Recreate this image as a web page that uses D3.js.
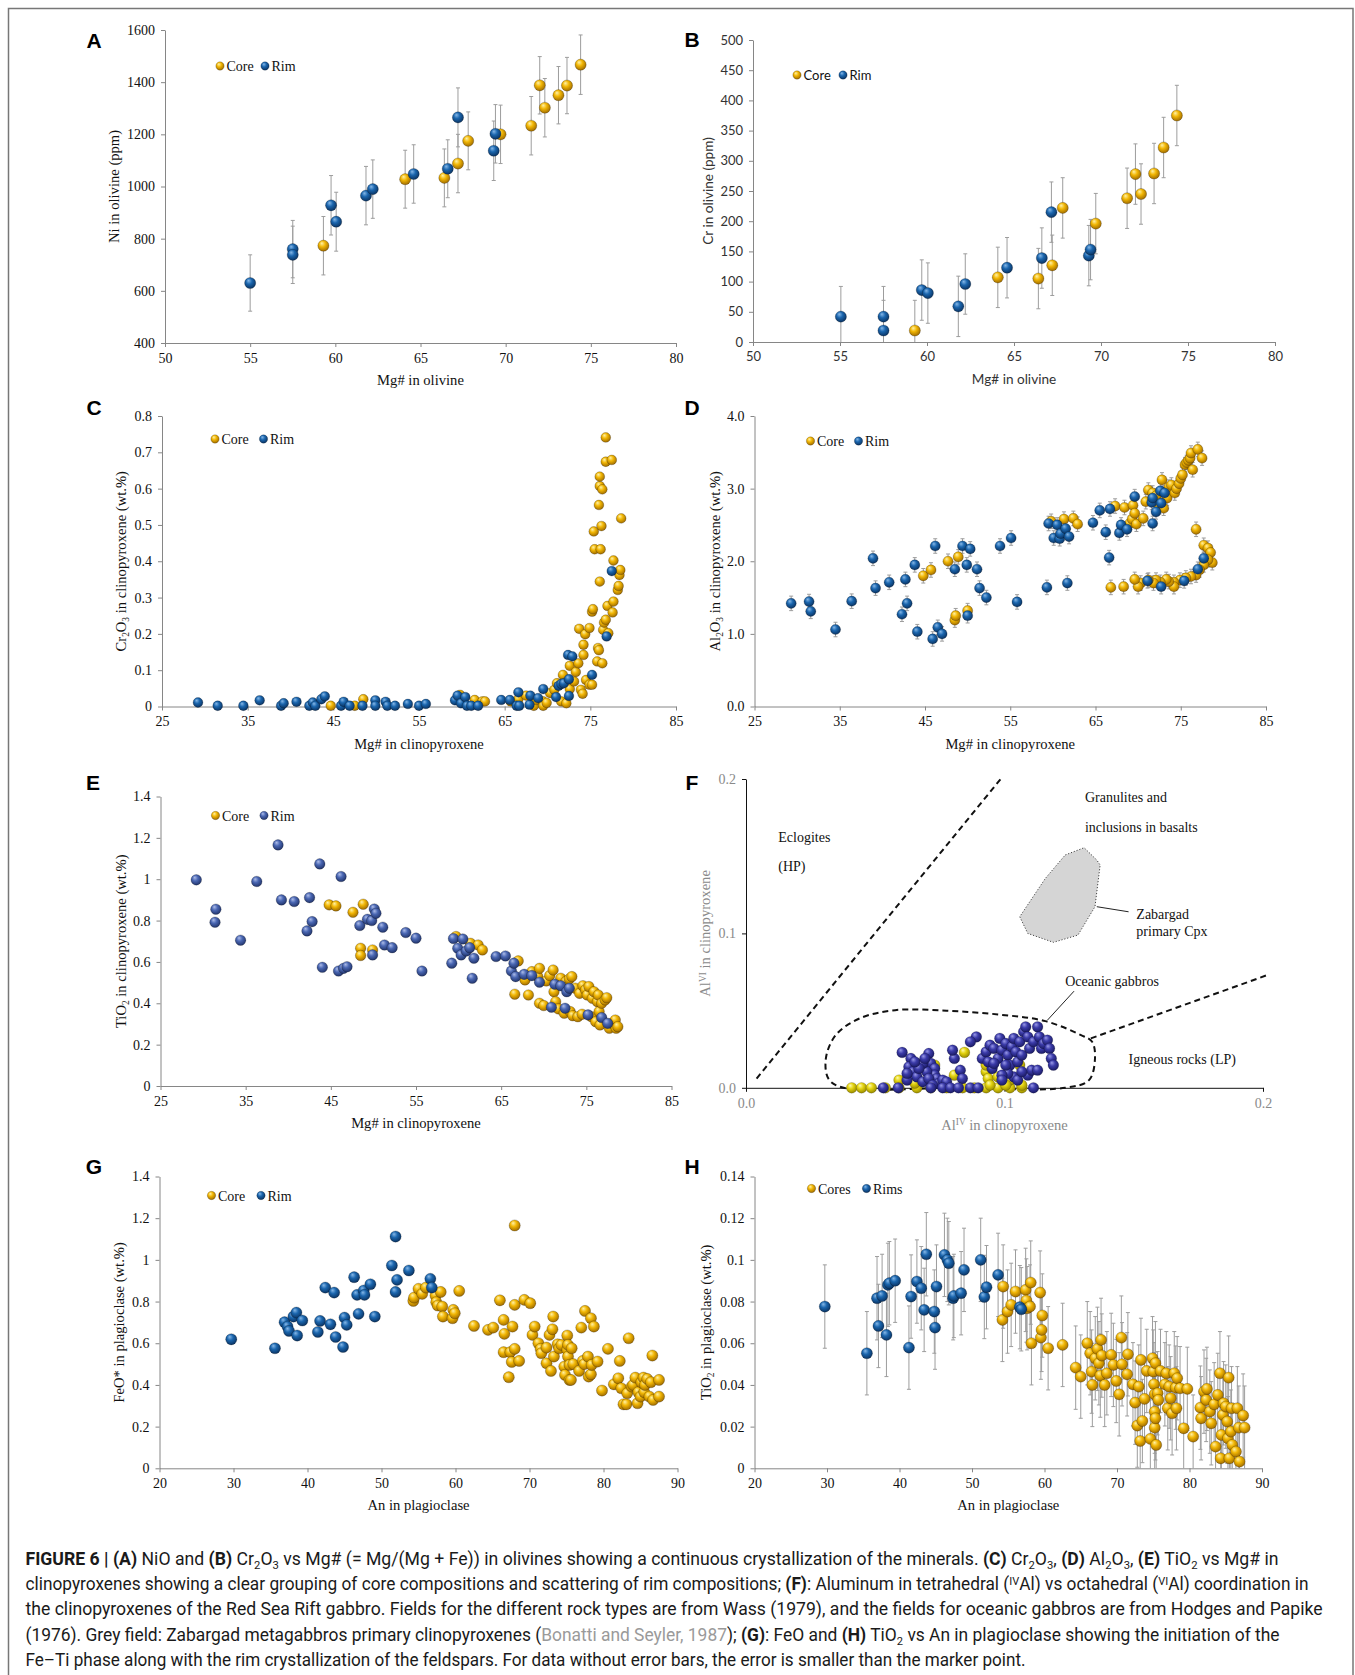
<!DOCTYPE html>
<html>
<head>
<meta charset="utf-8">
<script src="https://cdn.jsdelivr.net/npm/d3@7"></script>
<style>
  body { margin: 0; background: #fff; }
</style>
</head>
<body>
<svg id="fig" width="1355" height="1675"></svg>
<script>
// ---------- data ----------
// A: Ni (ppm) vs Mg# in olivine, [x, y, err]
var aRim = [[55.0,630,108],[57.5,760,110],[57.5,738,110],[59.75,928,114],[60.05,865,113],[61.8,965,112],[62.2,990,112],[64.6,1048,112],[66.6,1068,111],[67.2,1265,113],[69.3,1137,114],[69.4,1202,112]];
var aCore = [[59.3,773,112],[64.1,1028,111],[66.4,1033,111],[67.2,1088,112],[67.8,1175,111],[69.7,1200,112],[71.5,1233,112],[72.0,1388,110],[72.3,1302,112],[73.1,1350,110],[73.6,1387,108],[74.4,1467,114]];

// B: Cr (ppm) vs Mg# in olivine
var bRim = [[55.05,42],[57.5,42],[57.5,19],[59.7,86],[60.05,81],[61.8,59],[62.2,96],[64.6,123],[66.6,139],[67.15,215],[69.3,143],[69.4,153]];
var bCore = [[59.3,19],[64.07,107],[66.4,105],[67.2,127],[67.8,222],[69.7,196],[71.5,238],[71.98,278],[72.3,245],[73.05,279],[73.6,322],[74.36,375]];
var bErr = 50;

// C: Cr2O3 vs Mg# in clinopyroxene
var cRim = [[29.2,0.011],[31.5,0.002],[34.5,0.002],[36.4,0.017],[38.9,0.002],[39.2,0.009],[40.7,0.013],[42.2,0.002],[42.6,0.011],[42.9,0.002],[43.6,0.02],[44.0,0.028],[45.9,0.002],[46.2,0.013],[46.9,0.002],[48.4,0.002],[49.9,0.017],[49.9,0.002],[51.1,0.013],[51.3,0.002],[52.2,0.002],[53.7,0.007],[55.0,0.002],[55.8,0.007],[59.2,0.017],[59.5,0.03],[59.9,0.009],[60.4,0.026],[60.6,0.002],[61.1,0.002],[61.9,0.002],[64.6,0.018],[65.6,0.018],[66.4,0.002],[66.6,0.039],[66.7,0.002],[67.9,0.005],[68.0,0.03],[68.9,0.023],[69.5,0.048],[71.0,0.026],[71.3,0.057],[71.6,0.062],[71.9,0.064],[72.5,0.075],[72.5,0.029],[72.4,0.142],[72.9,0.138],[75.2,0.087],[76.9,0.193],[77.5,0.373]];
var cCore = [[44.7,0.002],[47.5,0.002],[48.5,0.02],[59.8,0.032],[61.5,0.018],[62.4,0.014],[62.7,0.014],[65.7,0.014],[66.6,0.02],[67.5,0.03],[68.4,0.002],[68.7,0.018],[69.5,0.014],[69.5,0.002],[69.9,0.01],[70.3,0.037],[70.8,0.046],[71.1,0.064],[71.6,0.014],[71.8,0.087],[72.2,0.009],[72.6,0.112],[72.6,0.048],[73.1,0.069],[73.3,0.095],[73.6,0.119],[73.9,0.046],[73.7,0.214],[74.1,0.035],[74.2,0.142],[74.4,0.199],[74.2,0.17],[74.5,0.073],[74.9,0.06],[75.2,0.06],[74.9,0.216],[75.2,0.261],[75.3,0.268],[75.4,0.482],[75.5,0.433],[75.8,0.124],[75.9,0.161],[76.0,0.155],[76.0,0.555],[76.1,0.344],[76.1,0.607],[76.1,0.633],[76.2,0.433],[76.3,0.497],[76.4,0.598],[76.4,0.119],[76.5,0.211],[76.6,0.231],[76.8,0.239],[76.8,0.674],[76.8,0.741],[77.0,0.277],[77.1,0.202],[77.5,0.679],[77.6,0.259],[77.7,0.289],[77.7,0.402],[78.2,0.321],[78.3,0.332],[78.4,0.362],[78.5,0.376],[78.6,0.518]];
var cErr = 0.008;

// D: Al2O3 vs Mg# in clinopyroxene
var dRim = [[29.3,1.42],[31.4,1.445],[31.6,1.31],[34.5,1.06],[36.4,1.45],[38.9,2.04],[39.2,1.63],[40.8,1.71],[42.3,1.27],[42.7,1.75],[42.9,1.42],[43.8,1.95],[44.1,1.03],[45.9,0.93],[46.2,2.21],[46.5,1.09],[47.0,1.0],[48.5,1.89],[49.4,2.21],[49.9,1.95],[50.0,1.25],[50.3,2.17],[51.1,1.89],[51.4,1.63],[52.2,1.5],[53.8,2.21],[55.1,2.32],[55.8,1.44],[59.3,1.64],[59.5,2.52],[60.1,2.32],[60.5,2.5],[60.8,2.31],[60.9,2.38],[61.5,2.45],[61.7,1.7],[61.9,2.34],[64.7,2.53],[65.5,2.7],[66.2,2.4],[66.6,2.05],[66.7,2.72],[67.8,2.39],[68.0,2.5],[68.7,2.44],[69.6,2.89],[71.1,1.73],[71.6,2.81],[71.7,2.87],[71.7,2.52],[72.1,2.68],[72.6,2.97],[72.7,2.8],[72.7,1.65],[73.1,2.94],[75.4,1.73],[77.0,1.89],[77.7,2.04]];
var dCore = [[44.8,1.8],[45.7,1.88],[47.7,2.0],[48.9,2.06],[48.5,1.19],[48.6,1.25],[50.0,1.32],[59.8,2.55],[61.3,2.58],[62.4,2.59],[62.9,2.51],[67.3,2.76],[68.4,2.74],[69.0,2.52],[69.3,2.58],[69.4,2.77],[69.6,2.66],[69.8,2.51],[70.6,2.59],[70.9,2.82],[71.2,2.98],[71.7,2.94],[72.1,2.9],[72.5,2.75],[72.8,3.12],[73.0,2.73],[73.4,2.87],[73.6,3.02],[73.9,3.05],[74.3,2.94],[74.5,3.0],[74.8,3.07],[75.0,3.14],[75.2,3.19],[75.5,3.33],[75.7,3.36],[75.9,3.39],[76.1,3.42],[76.2,3.49],[76.4,3.26],[76.8,2.44],[77.0,3.54],[77.5,3.42],[77.7,2.22],[78.2,2.18],[78.5,2.12],[78.7,1.98],[78.2,2.02],[77.7,1.95],[77.2,1.88],[76.8,1.81],[76.2,1.79],[75.6,1.77],[74.9,1.74],[74.2,1.71],[74.2,1.65],[73.6,1.72],[73.3,1.75],[72.6,1.71],[72.1,1.74],[71.8,1.7],[71.2,1.74],[70.3,1.7],[70.0,1.65],[69.6,1.75],[68.3,1.65],[66.8,1.64]];
var dErr = 0.1;

// E: TiO2 vs Mg# in clinopyroxene
var eRim = [[29.2,0.997],[31.5,0.855],[31.4,0.792],[34.4,0.705],[36.3,0.989],[38.8,1.166],[39.2,0.9],[40.7,0.892],[42.2,0.75],[42.5,0.911],[42.8,0.795],[43.7,1.074],[44.0,0.574],[45.9,0.556],[46.2,1.013],[46.5,0.569],[46.9,0.577],[48.4,0.776],[49.3,0.806],[49.8,0.8],[50.1,0.856],[50.3,0.835],[49.9,0.634],[51.1,0.768],[51.3,0.682],[52.2,0.669],[53.8,0.742],[55.0,0.715],[55.7,0.556],[59.2,0.594],[59.4,0.713],[59.9,0.666],[60.3,0.634],[60.5,0.711],[60.9,0.653],[61.3,0.669],[61.6,0.521],[61.8,0.618],[64.4,0.626],[65.5,0.629],[66.2,0.556],[66.5,0.594],[66.7,0.529],[67.7,0.54],[68.6,0.534],[69.5,0.502],[70.9,0.381],[71.3,0.492],[72.0,0.485],[72.5,0.376],[72.7,0.456],[73.0,0.473],[75.2,0.344],[76.8,0.331],[77.5,0.303]];
var eCore = [[44.8,0.876],[45.6,0.871],[47.6,0.84],[48.8,0.879],[48.5,0.666],[48.5,0.631],[49.9,0.658],[59.7,0.723],[61.4,0.69],[62.3,0.682],[62.8,0.658],[67.0,0.605],[67.8,0.513],[66.6,0.444],[68.2,0.44],[68.6,0.553],[69.3,0.529],[69.5,0.569],[69.5,0.4],[70.0,0.389],[70.3,0.508],[70.7,0.534],[71.1,0.561],[71.2,0.456],[71.4,0.408],[71.7,0.373],[72.0,0.521],[72.4,0.352],[72.6,0.505],[73.0,0.518],[73.1,0.36],[73.3,0.529],[73.4,0.34],[73.7,0.473],[74.0,0.335],[74.2,0.448],[74.5,0.347],[74.6,0.485],[74.9,0.465],[75.1,0.44],[75.3,0.481],[75.6,0.335],[75.7,0.424],[75.9,0.456],[76.1,0.311],[76.3,0.408],[76.4,0.44],[76.5,0.36],[76.6,0.295],[76.8,0.4],[77.2,0.416],[77.4,0.427],[77.7,0.279],[78.0,0.303],[78.4,0.319],[78.5,0.279],[78.7,0.287]];

// F: AlVI vs AlIV in clinopyroxene
var fRim = [[0.0604,0.0229],[0.0638,0.019],[0.063,0.0136],[0.0646,0.0104],[0.0661,0.0071],[0.0684,0.0039],[0.0707,0.0222],[0.0715,0.0158],[0.073,0.0125],[0.073,0.0082],[0.0738,0.006],[0.0745,0.0028],[0.0761,0.005],[0.0699,0.0104],[0.0684,0.0158],[0.0669,0.0125],[0.0707,0.006],[0.0722,0.0017],[0.0623,0.005],[0.0806,0.019],[0.0799,0.0244],[0.0829,0.0114],[0.0837,0.006],[0.0891,0.033],[0.0776,0.0039],[0.0653,0.0168],[0.0692,0.019],[0.0623,0.0093],
  [0.0914,0.019],[0.0929,0.0233],[0.0944,0.0276],[0.0959,0.0255],[0.0975,0.019],[0.0982,0.032],[0.099,0.0244],[0.1005,0.0287],[0.1013,0.0212],[0.1021,0.0147],[0.1028,0.0266],[0.1036,0.032],[0.1044,0.0233],[0.1051,0.0168],[0.1059,0.0298],[0.1067,0.0212],[0.1074,0.0363],[0.1082,0.0395],[0.109,0.033],[0.1097,0.0255],[0.1112,0.0298],[0.1128,0.0395],[0.1135,0.033],[0.1143,0.0255],[0.1151,0.0287],[0.1166,0.0309],[0.1174,0.0255],[0.1181,0.019],[0.1189,0.0147],[0.109,0.0082],[0.1105,0.0114],[0.1128,0.0114],[0.1036,0.0071],[0.1013,0.0093],[0.099,0.0082],[0.0952,0.0125],[0.0937,0.0168],[0.0959,0.0158],[0.1005,0.0147],[0.1051,0.005],[0.1067,0.0104],[0.099,0.005],[0.0868,0.0298],
  [0.0531,0],[0.0589,0],[0.0715,0],[0.0761,0],[0.0791,0],[0.0822,0],[0.0868,0],[0.0898,0],[0.1112,0]];
var fCore = [[0.0409,0],[0.0447,0],[0.0485,0],[0.0539,0],[0.0592,0],[0.0661,0],[0.0715,0],[0.0776,0],[0.0838,0],[0.0883,0],[0.0929,0],[0.0975,0],[0.1021,0],[0.1067,0],
  [0.0592,0.005],[0.0845,0.0229],[0.0929,0.0104],[0.0937,0.006],[0.0975,0.0071],[0.102,0.005],[0.1059,0.0147],[0.1067,0.0017],[0.0806,0.0082],[0.0929,0.0147],[0.073,0.0147],[0.0944,0.0017],[0.1005,0.0017],[0.0653,0.003]];
// F: field outlines (Wass 1979; Hodges & Papike 1976; Bonatti & Seyler 1987)
var fDividers = [[[0.0041,0.006],[0.0987,0.2004]], [[0.1334,0.032],[0.2023,0.0734]]];
var fOceanic = [[0.0378,0],[0.032,0.0056],[0.0309,0.019],[0.0347,0.0341],[0.0439,0.0449],[0.0577,0.0503],[0.0776,0.0499],[0.0975,0.0475],[0.1158,0.0432],[0.1296,0.0341],[0.1339,0.0298],[0.135,0.019],[0.1327,0.005],[0.1235,0],[0.08,0]];
var fZabargad = [[0.1059,0.1108],[0.109,0.1],[0.1189,0.0942],[0.1284,0.0989],[0.135,0.1173],[0.137,0.1443],[0.1357,0.1475],[0.1308,0.1555],[0.1235,0.1508],[0.1158,0.1356]];
var fLabels = [["Eclogites",0.0125,0.1594],["(HP)",0.0125,0.1404],["Granulites and",0.1311,0.1849],["inclusions in basalts",0.1311,0.1659],["Zabargad",0.151,0.1093],["primary Cpx",0.151,0.0985],["Oceanic gabbros",0.1235,0.0661],["Igneous rocks (LP)",0.148,0.0151]];
var fLeaders = [[[0.1357,0.1173],[0.148,0.114]], [[0.1269,0.0626],[0.1166,0.0438]]];

// G: FeO* vs An in plagioclase
var gRim = [[29.7,0.619],[35.6,0.576],[36.9,0.701],[37.3,0.68],[37.5,0.659],[38.1,0.728],[38.5,0.747],[38.6,0.637],[39.3,0.709],[41.4,0.654],[41.7,0.707],[42.4,0.867],[43.1,0.691],[43.6,0.843],[43.8,0.63],[44.8,0.582],[45.0,0.723],[45.3,0.688],[46.3,0.917],[46.7,0.832],[46.9,0.741],[47.6,0.853],[47.7,0.832],[48.5,0.883],[49.1,0.728],[51.4,0.973],[51.9,1.112],[51.9,0.846],[52.1,0.904],[53.7,0.949],[56.6,0.909],[56.8,0.867]];
var gCore = [[54.3,0.803],[54.4,0.819],[55.0,0.861],[55.5,0.837],[56.0,0.867],[57.3,0.829],[57.4,0.797],[57.6,0.781],[58.0,0.846],[58.2,0.776],[58.3,0.728],[59.6,0.72],[59.7,0.76],[59.9,0.744],[60.5,0.851],[62.5,0.683],[64.4,0.664],[65.1,0.675],[66.0,0.806],[66.5,0.712],[66.6,0.645],[66.5,0.557],[67.2,0.437],[67.4,0.557],[67.6,0.51],[67.7,0.68],[68.0,0.573],[68.0,0.784],[68.0,1.165],[68.6,0.515],[69.3,0.808],[70.1,0.792],[70.4,0.64],[70.7,0.68],[71.2,0.6],[71.5,0.573],[71.6,0.552],[72.3,0.579],[72.3,0.504],[72.7,0.64],[72.9,0.467],[73.1,0.667],[73.2,0.728],[73.3,0.536],[73.8,0.595],[74.0,0.576],[74.3,0.592],[74.7,0.488],[74.8,0.448],[75.1,0.637],[75.1,0.568],[75.2,0.536],[75.2,0.592],[75.4,0.496],[75.4,0.424],[75.6,0.424],[75.7,0.576],[75.9,0.5],[76.7,0.467],[77.0,0.675],[77.2,0.515],[77.4,0.5],[77.5,0.755],[77.9,0.536],[78.0,0.44],[78.3,0.451],[78.3,0.72],[78.4,0.496],[78.7,0.68],[79.2,0.512],[79.8,0.373],[80.6,0.573],[81.4,0.403],[82.0,0.432],[82.2,0.515],[82.4,0.384],[82.7,0.307],[83.1,0.307],[83.2,0.36],[83.4,0.624],[83.8,0.392],[84.0,0.4],[84.3,0.435],[84.6,0.312],[84.7,0.365],[85.0,0.344],[85.1,0.413],[85.4,0.435],[85.5,0.365],[85.6,0.4],[85.9,0.429],[86.2,0.344],[86.4,0.413],[86.6,0.541],[86.7,0.328],[87.5,0.424],[87.5,0.344]];

// H: TiO2 vs An in plagioclase
var hRim = [[29.7,0.0776],[35.5,0.0552],[36.9,0.0816],[37.1,0.0683],[37.6,0.0827],[38.2,0.064],[38.4,0.088],[38.6,0.0888],[39.4,0.09],[41.3,0.0579],[41.6,0.0824],[42.4,0.0896],[43.0,0.0864],[43.4,0.076],[43.7,0.1027],[44.8,0.0752],[44.9,0.0675],[45.1,0.0872],[46.2,0.1024],[46.6,0.1],[46.8,0.0984],[47.4,0.0816],[47.5,0.0827],[48.5,0.084],[48.9,0.0952],[51.2,0.1],[51.7,0.0822],[52.0,0.0869],[53.6,0.0928],[56.6,0.0773],[56.8,0.0763]];
var hCore = [[54.3,0.0872],[54.2,0.0712],[54.9,0.0752],[55.4,0.0784],[56.0,0.0848],[57.4,0.0856],[57.5,0.0805],[57.6,0.0768],[58.0,0.0776],[58.1,0.0891],[58.2,0.06],[59.4,0.0843],[59.5,0.0627],[59.6,0.0664],[59.7,0.0733],[60.5,0.0576],[62.5,0.0592],[64.3,0.0483],[65.0,0.044],[65.9,0.06],[66.3,0.0552],[66.5,0.0464],[66.6,0.04],[67.0,0.0528],[67.3,0.0573],[67.5,0.0504],[67.7,0.0445],[67.8,0.0616],[67.9,0.0541],[68.3,0.04],[68.6,0.0456],[69.2,0.0544],[69.5,0.0496],[69.9,0.0419],[70.3,0.0355],[70.6,0.0627],[70.7,0.0499],[71.4,0.0451],[71.5,0.0547],[72.2,0.0403],[72.5,0.0315],[72.8,0.0205],[73.0,0.0392],[73.2,0.0131],[73.3,0.052],[73.5,0.0227],[73.8,0.0333],[74.1,0.0467],[74.6,0.0141],[74.9,0.0528],[75.0,0.0464],[75.1,0.0403],[75.2,0.0355],[75.2,0.0272],[75.2,0.0195],[75.3,0.0504],[75.3,0.024],[75.4,0.0112],[75.6,0.036],[75.7,0.0328],[76.0,0.0467],[76.6,0.0403],[76.8,0.0456],[77.0,0.0288],[77.2,0.0392],[77.4,0.0336],[77.6,0.0264],[77.9,0.0456],[78.1,0.0387],[78.2,0.0288],[78.3,0.0432],[78.7,0.0384],[79.2,0.0192],[79.7,0.0381],[80.5,0.0152],[81.5,0.0291],[81.6,0.024],[82.0,0.0368],[82.3,0.0328],[82.4,0.0381],[82.8,0.0272],[83.0,0.0216],[83.4,0.0307],[83.6,0.0104],[83.9,0.0352],[84.2,0.0456],[84.3,0.0048],[84.4,0.016],[84.6,0.0256],[84.7,0.0312],[85.0,0.0296],[85.2,0.0224],[85.3,0.0144],[85.4,0.0435],[85.5,0.0048],[85.7,0.0176],[85.8,0.0288],[85.9,0.0112],[86.4,0.008],[86.6,0.0288],[86.8,0.0195],[86.9,0.0032],[87.4,0.0253],[87.6,0.0195]];
var hErr = 0.02;

// tick values
var olivineXTicks = [50,55,60,65,70,75,80];
var aYTicks = [400,600,800,1000,1200,1400,1600];
var bYTicks = [0,50,100,150,200,250,300,350,400,450,500];
var cpxXTicks = [25,35,45,55,65,75,85];
var cYTicks = [0,0.1,0.2,0.3,0.4,0.5,0.6,0.7,0.8];
var dYTicks = [0,1,2,3,4];
var eYTicks = [0,0.2,0.4,0.6,0.8,1,1.2,1.4];
var fTicks = [0,0.1,0.2];
var plagXTicks = [20,30,40,50,60,70,80,90];
var gYTicks = [0,0.2,0.4,0.6,0.8,1,1.2,1.4];
var hYTicks = [0,0.02,0.04,0.06,0.08,0.1,0.12,0.14];

var legendNames = ["Core","Rim"];
var hLegendNames = ["Cores","Rims"];

// ---------- drawing ----------
var SERIF = "'Liberation Serif','Times New Roman',serif";
var SANS = "Lato,'Open Sans',sans-serif";
var svg = d3.select("#fig");
var defs = svg.append("defs");

function sphere(id, light, mid, dark) {
  var g = defs.append("radialGradient").attr("id", id)
    .attr("cx", "45%").attr("cy", "40%").attr("r", "60%")
    .attr("fx", "35%").attr("fy", "28%");
  g.append("stop").attr("offset", "0%").attr("stop-color", light);
  g.append("stop").attr("offset", "45%").attr("stop-color", mid);
  g.append("stop").attr("offset", "100%").attr("stop-color", dark);
  return "url(#" + id + ")";
}
var CORE = sphere("gCore", "#fff2a8", "#f2b705", "#a06c00");
var RIM = sphere("gRim", "#86b8e8", "#1b66ae", "#0a3362");
var RIM_E = sphere("gRimE", "#aebde9", "#4a67b3", "#22356c");
var RIM_F = sphere("gRimF", "#9a9ae8", "#3b3ba9", "#1a1a63");
var CORE_F = sphere("gCoreF", "#fffbb0", "#e3d30f", "#968800");

// text with sub/superscripts, bold and grey segments
function rich(sel, segs, size) {
  var shift = 0;
  segs.forEach(function(s) {
    var o = (typeof s === "string") ? {t: s} : s;
    var txt = o.t || o.b || o.g || o.sub || o.sup;
    var target = o.sub ? size * 0.22 : (o.sup ? -size * 0.3 : 0);
    var ts = sel.append("tspan").text(txt);
    if (target !== shift) ts.attr("dy", target - shift);
    shift = target;
    if (o.sub || o.sup) ts.attr("font-size", size * 0.64);
    if (o.b) ts.attr("font-weight", 700);
    if (o.g) ts.attr("fill", "#9a9a9a");
  });
}

function styleAxis(sel, color, font, size, textColor) {
  sel.select(".domain").attr("stroke", color);
  sel.selectAll(".tick line").attr("stroke", color);
  sel.selectAll(".tick text").attr("font-family", font).attr("font-size", size).attr("fill", textColor);
}

function panel(o) {
  var g = svg.append("g");
  var x = d3.scaleLinear().domain(o.xDomain).range([o.left, o.right]);
  var y = d3.scaleLinear().domain(o.yDomain).range([o.bottom, o.top]);
  var font = o.font || SERIF, fs = o.fontSize || 14, ts = fs + 0.6;
  var axisColor = o.axisColor || "#868686", labelColor = o.labelColor || "#111";

  var xa = g.append("g").attr("transform", "translate(0," + o.bottom + ")")
    .call(d3.axisBottom(x).tickValues(o.xTicks).tickFormat(o.xFmt || String)
      .tickSize(4).tickSizeOuter(0).tickPadding(6));
  styleAxis(xa, axisColor, font, fs, labelColor);
  var ya = g.append("g").attr("transform", "translate(" + o.left + ",0)")
    .call(d3.axisLeft(y).tickValues(o.yTicks).tickFormat(o.yFmt || String)
      .tickSize(4).tickSizeOuter(0).tickPadding(6));
  styleAxis(ya, axisColor, font, fs, labelColor);

  // panel letter
  g.append("text").attr("x", o.letterX).attr("y", o.letterY)
    .attr("text-anchor", "middle").attr("font-family", "'Liberation Sans',Arial,sans-serif")
    .attr("font-weight", 700).attr("font-size", 21).text(o.letter);

  // axis titles
  var xt = g.append("text").attr("x", (o.left + o.right) / 2).attr("y", o.bottom + 42)
    .attr("text-anchor", "middle").attr("font-family", font).attr("font-size", ts)
    .attr("fill", o.titleColor || "#111").style("white-space", "pre");
  rich(xt, o.xTitle, ts);
  var yt = g.append("text")
    .attr("transform", "translate(" + (o.left - o.yTitleGap) + "," + ((o.top + o.bottom) / 2) + ") rotate(-90)")
    .attr("text-anchor", "middle").attr("font-family", font).attr("font-size", ts)
    .attr("fill", o.titleColor || "#111").style("white-space", "pre");
  rich(yt, o.yTitle, ts);

  // series: error bars then spheres
  (o.series || []).forEach(function(s) {
    if (s.err) {
      var eb = g.append("g").attr("stroke", "#9d9d9d").attr("stroke-width", 1);
      s.data.forEach(function(d) {
        var e = (d.length > 2) ? d[2] : s.err;
        var lo = Math.max(d[1] - e, o.yDomain[0]), hi = d[1] + e;
        var cx = x(d[0]);
        eb.append("line").attr("x1", cx).attr("x2", cx).attr("y1", y(lo)).attr("y2", y(hi));
        eb.append("line").attr("x1", cx - 2).attr("x2", cx + 2).attr("y1", y(hi)).attr("y2", y(hi));
        if (d[1] - e >= o.yDomain[0])
          eb.append("line").attr("x1", cx - 2).attr("x2", cx + 2).attr("y1", y(lo)).attr("y2", y(lo));
      });
    }
  });
  (o.series || []).forEach(function(s) {
    g.append("g").selectAll("circle").data(s.data).join("circle")
      .attr("cx", function(d) { return x(d[0]); })
      .attr("cy", function(d) { return y(d[1]); })
      .attr("r", s.r).attr("fill", s.fill)
      .attr("stroke", "rgba(0,0,0,0.35)").attr("stroke-width", 0.6);
  });

  // legend
  if (o.legend) {
    var L = o.legend;
    L.items.forEach(function(it, i) {
      g.append("circle").attr("cx", L.x[i]).attr("cy", L.y).attr("r", 4.2)
        .attr("fill", it.fill).attr("stroke", "rgba(0,0,0,0.35)").attr("stroke-width", 0.5);
      g.append("text").attr("x", L.x[i] + 6.5).attr("y", L.y + 5)
        .attr("font-family", font).attr("font-size", fs).attr("fill", "#111").text(it.name);
    });
  }
  return {x: x, y: y, g: g};
}

var fmt1 = d3.format(".1f");

// A
panel({left: 165, right: 676, top: 30, bottom: 343, xDomain: [50, 80], yDomain: [400, 1600],
  xTicks: olivineXTicks, yTicks: aYTicks, letter: "A", letterX: 94, letterY: 48,
  xTitle: ["Mg# in olivine"], yTitle: ["Ni in olivine (ppm)"], yTitleGap: 46,
  legend: {x: [220, 265], y: 66, items: [{name: legendNames[0], fill: CORE}, {name: legendNames[1], fill: RIM}]},
  series: [{data: aCore, fill: CORE, r: 5.6, err: 1}, {data: aRim, fill: RIM, r: 5.6, err: 1}]});

// B
panel({left: 753, right: 1275, top: 40, bottom: 342, xDomain: [50, 80], yDomain: [0, 500],
  xTicks: olivineXTicks, yTicks: bYTicks, font: SANS, fontSize: 13, labelColor: "#333", titleColor: "#333",
  letter: "B", letterX: 692, letterY: 47,
  xTitle: ["Mg# in olivine"], yTitle: ["Cr in olivine (ppm)"], yTitleGap: 40,
  legend: {x: [797, 843], y: 75, items: [{name: legendNames[0], fill: CORE}, {name: legendNames[1], fill: RIM}]},
  series: [{data: bCore, fill: CORE, r: 5.6, err: bErr}, {data: bRim, fill: RIM, r: 5.6, err: bErr}]});

// C
panel({left: 162, right: 676, top: 416, bottom: 706.5, xDomain: [25, 85], yDomain: [0, 0.8],
  xTicks: cpxXTicks, yTicks: cYTicks, letter: "C", letterX: 94, letterY: 415,
  xTitle: ["Mg# in clinopyroxene"], yTitle: ["Cr", {sub: "2"}, "O", {sub: "3"}, " in clinopyroxene (wt.%)"], yTitleGap: 36,
  legend: {x: [215, 263.5], y: 439, items: [{name: legendNames[0], fill: CORE}, {name: legendNames[1], fill: RIM}]},
  series: [{data: cCore, fill: CORE, r: 4.9, err: cErr}, {data: cRim, fill: RIM, r: 4.9}]});

// D
panel({left: 754.5, right: 1266, top: 416, bottom: 706.5, xDomain: [25, 85], yDomain: [0, 4],
  xTicks: cpxXTicks, yTicks: dYTicks, yFmt: fmt1, letter: "D", letterX: 692, letterY: 415,
  xTitle: ["Mg# in clinopyroxene"], yTitle: ["Al", {sub: "2"}, "O", {sub: "3"}, " in clinopyroxene (wt.%)"], yTitleGap: 35,
  legend: {x: [810.5, 858.5], y: 441, items: [{name: legendNames[0], fill: CORE}, {name: legendNames[1], fill: RIM}]},
  series: [{data: dCore, fill: CORE, r: 5.1, err: dErr}, {data: dRim, fill: RIM, r: 5.1, err: dErr}]});

// E
panel({left: 160.5, right: 671.5, top: 796.5, bottom: 1086, xDomain: [25, 85], yDomain: [0, 1.4],
  xTicks: cpxXTicks, yTicks: eYTicks, letter: "E", letterX: 93, letterY: 790,
  xTitle: ["Mg# in clinopyroxene"], yTitle: ["TiO", {sub: "2"}, " in clinopyroxene (wt.%)"], yTitleGap: 35,
  legend: {x: [215.5, 264], y: 815.5, items: [{name: legendNames[0], fill: CORE}, {name: legendNames[1], fill: RIM_E}]},
  series: [{data: eCore, fill: CORE, r: 5.3}, {data: eRim, fill: RIM_E, r: 5.3}]});

// F
var pf = panel({left: 746, right: 1263, top: 779, bottom: 1087.8, xDomain: [0, 0.2], yDomain: [0, 0.2],
  xTicks: fTicks, yTicks: fTicks, xFmt: fmt1, yFmt: fmt1, axisColor: "#111", labelColor: "#8a8a8a", titleColor: "#8a8a8a",
  letter: "F", letterX: 692, letterY: 790,
  xTitle: ["Al", {sup: "IV"}, " in clinopyroxene"], yTitle: ["Al", {sup: "VI"}, " in clinopyroxene"], yTitleGap: 36,
  series: []});
(function() {
  var x = pf.x, y = pf.y, g = pf.g;
  var line = d3.line().x(function(d) { return x(d[0]); }).y(function(d) { return y(d[1]); });
  g.append("path").attr("d", line(fZabargad) + "Z").attr("fill", "#d5d5d5")
    .attr("stroke", "#444").attr("stroke-width", 1).attr("stroke-dasharray", "1.2,1.8");
  fDividers.forEach(function(seg) {
    g.append("path").attr("d", line(seg)).attr("fill", "none").attr("stroke", "#111")
      .attr("stroke-width", 2).attr("stroke-dasharray", "6,4");
  });
  g.append("path").attr("d", line.curve(d3.curveCatmullRomClosed.alpha(0.5))(fOceanic))
    .attr("fill", "none").attr("stroke", "#111").attr("stroke-width", 2).attr("stroke-dasharray", "6,4");
  line.curve(d3.curveLinear);
  fLeaders.forEach(function(seg) {
    g.append("path").attr("d", line(seg)).attr("fill", "none").attr("stroke", "#222").attr("stroke-width", 1);
  });
  fLabels.forEach(function(l) {
    g.append("text").attr("x", x(l[1])).attr("y", y(l[2])).attr("font-family", SERIF)
      .attr("font-size", 14).attr("fill", "#111").text(l[0]);
  });
  [[fCore, CORE_F], [fRim, RIM_F]].forEach(function(s) {
    g.append("g").selectAll("circle").data(s[0]).join("circle")
      .attr("cx", function(d) { return x(d[0]); })
      .attr("cy", function(d) { return y(d[1]); })
      .attr("r", 5.4).attr("fill", s[1])
      .attr("stroke", "rgba(0,0,0,0.3)").attr("stroke-width", 0.5);
  });
})();

// G
panel({left: 159.5, right: 677.5, top: 1176.5, bottom: 1468.3, xDomain: [20, 90], yDomain: [0, 1.4],
  xTicks: plagXTicks, yTicks: gYTicks, letter: "G", letterX: 94, letterY: 1174,
  xTitle: ["An in plagioclase"], yTitle: ["FeO* in plagioclase (wt.%)"], yTitleGap: 36,
  legend: {x: [211.5, 261], y: 1195.5, items: [{name: legendNames[0], fill: CORE}, {name: legendNames[1], fill: RIM}]},
  series: [{data: gCore, fill: CORE, r: 5.6}, {data: gRim, fill: RIM, r: 5.6}]});

// H
panel({left: 754.5, right: 1262, top: 1176.5, bottom: 1468.3, xDomain: [20, 90], yDomain: [0, 0.14],
  xTicks: plagXTicks, yTicks: hYTicks, letter: "H", letterX: 692, letterY: 1174,
  xTitle: ["An in plagioclase"], yTitle: ["TiO", {sub: "2"}, " in plagioclase (wt.%)"], yTitleGap: 44,
  legend: {x: [811.5, 866.5], y: 1188.5, items: [{name: hLegendNames[0], fill: CORE}, {name: hLegendNames[1], fill: RIM}]},
  series: [{data: hCore, fill: CORE, r: 5.6, err: hErr}, {data: hRim, fill: RIM, r: 5.6, err: hErr}]});

// frame
svg.append("path").attr("d", "M8.5,1675V8.5H1353V1675").attr("fill", "none")
  .attr("stroke", "#777").attr("stroke-width", 1.5);

// caption
var caption = [
  [{b: "FIGURE 6 | (A)"}, " NiO and ", {b: "(B)"}, " Cr", {sub: "2"}, "O", {sub: "3"}, " vs Mg# (= Mg/(Mg + Fe)) in olivines showing a continuous crystallization of the minerals. ", {b: "(C)"}, " Cr", {sub: "2"}, "O", {sub: "3"}, ", ", {b: "(D)"}, " Al", {sub: "2"}, "O", {sub: "3"}, ", ", {b: "(E)"}, " TiO", {sub: "2"}, " vs Mg# in"],
  ["clinopyroxenes showing a clear grouping of core compositions and scattering of rim compositions; ", {b: "(F)"}, ": Aluminum in tetrahedral (", {sup: "IV"}, "Al) vs octahedral (", {sup: "VI"}, "Al) coordination in"],
  ["the clinopyroxenes of the Red Sea Rift gabbro. Fields for the different rock types are from Wass (1979), and the fields for oceanic gabbros are from Hodges and Papike"],
  ["(1976). Grey field: Zabargad metagabbros primary clinopyroxenes (", {g: "Bonatti and Seyler, 1987"}, "); ", {b: "(G)"}, ": FeO and ", {b: "(H)"}, " TiO", {sub: "2"}, " vs An in plagioclase showing the initiation of the"],
  ["Fe–Ti phase along with the rim crystallization of the feldspars. For data without error bars, the error is smaller than the marker point."]
];
var capBase = [1565, 1590, 1615, 1641, 1666];
var capWidth = [1253, 1283, 1297, 1254, 1000];
caption.forEach(function(segs, i) {
  var t = svg.append("text").attr("x", 25.5).attr("y", capBase[i])
    .attr("font-family", "Roboto,'Liberation Sans',sans-serif").attr("font-size", 17.5)
    .attr("fill", "#1a1a1a").attr("textLength", capWidth[i]).attr("lengthAdjust", "spacingAndGlyphs")
    .style("white-space", "pre");
  rich(t, segs, 17.5);
});
</script>
</body>
</html>
